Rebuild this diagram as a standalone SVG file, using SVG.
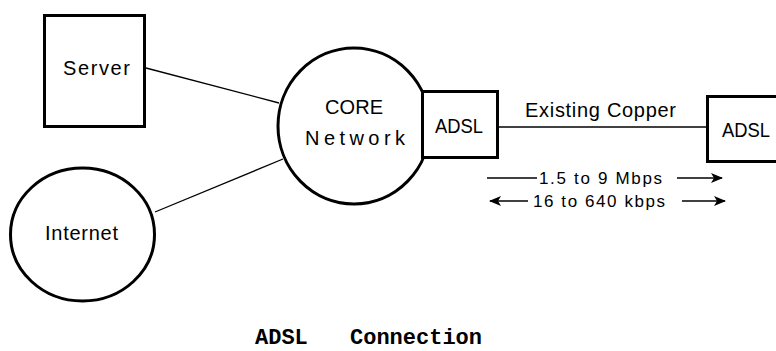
<svg xmlns="http://www.w3.org/2000/svg" width="776" height="351" viewBox="0 0 776 351">
<style>
.box{fill:#fff;stroke:#000;stroke-width:3}
.ell{fill:#fff;stroke:#000;stroke-width:3}
.ln{stroke:#000;stroke-width:1.3;fill:none}
.t{font-family:"Liberation Sans",Arial,sans-serif;font-size:20px;fill:#000}
.s{font-family:"Liberation Sans",Arial,sans-serif;font-size:17px;fill:#000}
.title{font-family:"Liberation Mono","Courier New",monospace;font-size:22px;font-weight:bold;fill:#000}
</style>
<defs>
<marker id="ah" markerWidth="12" markerHeight="10" refX="11" refY="5" orient="auto-start-reverse" markerUnits="userSpaceOnUse">
<path d="M0,0 L12,5 L0,10 L3,5 Z" fill="#000"/>
</marker>
</defs>
<rect width="776" height="351" fill="#fff"/>
<g id="connectors">
<line class="ln" x1="146" y1="68" x2="279" y2="103"/>
<line class="ln" x1="155" y1="212" x2="283" y2="159"/>
<line class="ln" x1="499" y1="127" x2="706" y2="127"/>
<line class="ln" x1="487" y1="178" x2="537" y2="178"/>
<line class="ln" x1="677" y1="178" x2="722" y2="178" marker-end="url(#ah)"/>
<line class="ln" x1="490" y1="201" x2="528" y2="201" marker-start="url(#ah)"/>
<line class="ln" x1="682" y1="201" x2="725" y2="201" marker-end="url(#ah)"/>
</g>
<g id="server">
<rect class="box" x="44.5" y="15.5" width="100" height="111"/>
<text class="t" x="63" y="75" textLength="67" lengthAdjust="spacing">Server</text>
</g>
<g id="internet">
<ellipse class="ell" cx="82.5" cy="234.5" rx="72" ry="66.5"/>
<text class="t" x="45" y="240" textLength="73" lengthAdjust="spacing">Internet</text>
</g>
<g id="core">
<ellipse class="ell" cx="354" cy="126" rx="76" ry="78"/>
<text class="t" x="325" y="114" textLength="58" lengthAdjust="spacing">CORE</text>
<text class="t" x="305" y="145" textLength="100" lengthAdjust="spacing">Network</text>
</g>
<g id="adsl-left">
<rect class="box" x="422.5" y="91.5" width="75" height="66"/>
<text class="t" x="435" y="133" textLength="48" lengthAdjust="spacingAndGlyphs">ADSL</text>
</g>
<g id="adsl-right">
<rect class="box" x="707.5" y="96.5" width="80" height="65"/>
<text class="t" x="722" y="137" textLength="48" lengthAdjust="spacingAndGlyphs">ADSL</text>
</g>
<g id="labels">
<text class="t" x="525" y="117" textLength="151" lengthAdjust="spacing">Existing Copper</text>
<text class="s" x="539" y="184" textLength="123" lengthAdjust="spacing">1.5 to 9 Mbps</text>
<text class="s" x="533" y="207" textLength="132" lengthAdjust="spacing">16 to 640 kbps</text>
<text class="title" x="255" y="344">ADSL</text>
<text class="title" x="350" y="344" textLength="132" lengthAdjust="spacing">Connection</text>
</g>
</svg>
